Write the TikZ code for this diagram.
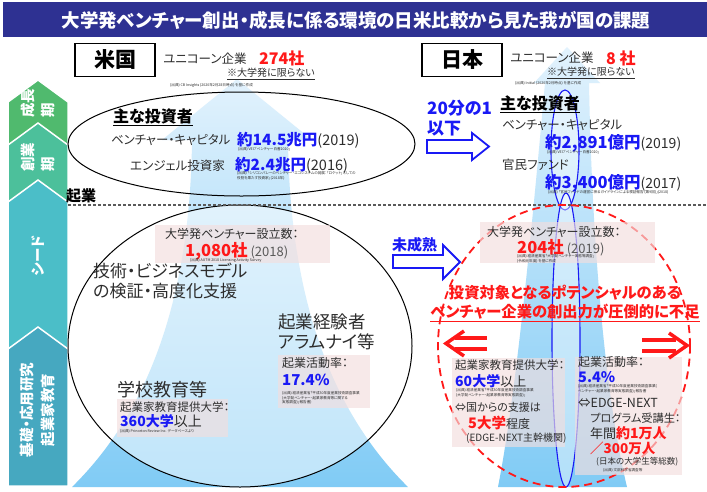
\documentclass[tikz,border=0pt]{standalone}
\usepackage{fontspec}
\setmainfont{Noto Sans CJK JP}[RawFeature=+palt]
\newcommand\fz[2]{\fontsize{#1}{#2}\selectfont}
\definecolor{titlebg}{RGB}{46,49,146}
\definecolor{jblue}{RGB}{25,25,245}
\definecolor{jred}{RGB}{255,25,25}
\definecolor{txt}{RGB}{45,45,45}
\definecolor{cA}{RGB}{80,186,110}
\definecolor{cB}{RGB}{76,192,155}
\definecolor{cC}{RGB}{75,190,200}
\definecolor{cD}{RGB}{70,168,192}
\definecolor{skyT}{RGB}{226,242,253}
\definecolor{skyM}{RGB}{196,230,250}
\definecolor{skyB}{RGB}{128,203,245}
\definecolor{pinkbox}{RGB}{243,222,222}
\definecolor{dashgray}{RGB}{90,90,90}
\begin{document}
\begin{tikzpicture}[x=1pt,y=-1pt,
  t/.style={inner sep=0pt, anchor=west, text=txt},
  tiny/.style={inner sep=0pt, anchor=west, text=txt, font=\fz{3.6}{4.4}, align=left},
  pbox/.style={fill=pinkbox, fill opacity=0.65, draw=none},
  chev/.style={draw=white, line width=1.5pt},
  vlab/.style={rotate=90, text=white, font=\bfseries\fz{14.5}{20}, inner sep=0pt},
  cbox/.style={draw=black, line width=1.3pt, fill=white, minimum width=80pt, minimum height=33pt, font=\bfseries\fz{21}{24}, inner sep=0pt},
  bluearrow/.style={draw=jblue, line width=1.8pt, fill=white, line join=miter},
  redarrow/.style={draw=jred, line width=3.5pt},
  sky/.style={top color=skyT, middle color=skyM, bottom color=skyB},
]
\useasboundingbox (0,0) rectangle (707,491);
\fill[white] (0,0) rectangle (707,491);
% title
\fill[titlebg] (3,2) rectangle (707,37);
\node[text=white, font=\bfseries\fz{18.5}{22}, inner sep=0pt] (title) at (356,20) {大学発ベンチャー創出・成長に係る環境の日米比較から見た我が国の課題};
% stage chevrons
\filldraw[chev, fill=cA] (8,102)--(38,80)--(68,102)--(68,150)--(8,150)--cycle;
\filldraw[chev, fill=cB] (8,145)--(38,123)--(68,145)--(68,210)--(8,210)--cycle;
\filldraw[chev, fill=cC] (8,202)--(38,180)--(68,202)--(68,355)--(8,355)--cycle;
\filldraw[chev, fill=cD] (8,349)--(38,327)--(68,349)--(68,486)--(8,486)--cycle;
\node[vlab, align=left] (lab1) at (38,103) {成長\\期};
\node[vlab, align=left] (lab2) at (38,157) {創業\\期};
\node[vlab] (lab3) at (38,256) {シード};
\node[vlab, align=center, font=\bfseries\fz{14.5}{21}] (lab4) at (38,410) {基礎・応用研究\\起業家教育};
% big sky arrows
\shade[sky] (237,79) -- (312,140) -- (288,140) .. controls (290,330) and (350,430) .. (408,487) -- (72,487) .. controls (130,430) and (190,330) .. (192,140) -- (162,140) -- cycle;
\shade[sky] (567,47) -- (600,83) -- (589,83) .. controls (592,250) and (606,400) .. (627,487) -- (498,487) .. controls (515,400) and (530,250) .. (545,83) -- (534,83) -- cycle;
% ellipses
\draw[black, line width=1pt] (241.5,144) ellipse [x radius=173.5pt, y radius=52pt];
\filldraw[draw=black, line width=1pt, fill=white, fill opacity=0.5] (240,346) ellipse [x radius=172pt, y radius=141pt];
\filldraw[draw=jblue, line width=1.1pt, fill=white, fill opacity=0.4] (565,150) ellipse [x radius=14pt, y radius=60pt];
\filldraw[draw=jblue, line width=1.1pt, fill=white, fill opacity=0.4] (566,340) ellipse [x radius=14pt, y radius=147pt];
% divider
\coordinate (dl) at (68,205);
\coordinate (dr) at (707,205);
\draw[dashgray, line width=1.2pt, dash pattern=on 3pt off 2pt] (dl) -- (dr);
\node[inner sep=0pt, anchor=west, font=\bfseries\fz{15}{18}] (kigyo) at (66,196) {起業};
% red dashed circle
\draw[jred, line width=1.8pt, dash pattern=on 8pt off 5pt] (564,346) ellipse [x radius=126pt, y radius=141pt];
% pink boxes
\fill[pbox] (155,225) rectangle (330,263);
\fill[pbox] (278,355) rectangle (370,408);
\fill[pbox] (117,399) rectangle (228,437);
\fill[pbox] (480,222) rectangle (655,263);
\fill[pbox] (452,358) rectangle (565,447);
\fill[pbox] (575,357) rectangle (682,475);
% country boxes
\node[cbox] (us) at (115,60) {米国};
\node[cbox] (jp) at (462,60) {日本};
% ---- US top
\node[t, font=\fz{12.5}{15}] (usuni) at (163,59) {ユニコーン企業};
\node[t, text=jred, font=\bfseries\fz{16}{19}] (usuninum) at (259,58) {274社};
\node[t, font=\fz{10}{12}] (usnote) at (227,74) {\underline{※大学発に限らない}};
\node[tiny] (ussrc1) at (170,85) {(出典) CB Insights (2020年2月28日時点) を基に作成};
\node[t, text=black, font=\bfseries\fz{16}{19}] (usinv) at (113,117) {\underline{主な投資者}};
\node[t, font=\fz{12.4}{15}] (usvc) at (111,140) {ベンチャー・キャピタル};
\node[t, font=\fz{14.5}{17}] (usvcv) at (237,140) {{\color{jblue}\bfseries\fz{15.5}{18}約14.5兆円}(2019)};
\node[tiny] (ussrc2) at (238,149) {(出典) VEC「ベンチャー白書2020」};
\node[t, font=\fz{12.5}{15}] (usang) at (130,166) {エンジェル投資家};
\node[t, font=\fz{14.5}{17}] (usangv) at (235,165) {{\color{jblue}\bfseries\fz{15.5}{18}約2.4兆円}(2016)};
\node[tiny] (ussrc3) at (237,176) {(出典) 「シリコンバレーのベンチャー・エコシステムの発展：「ロケット」としての\\役割を果たす投資家」(2018年)};
% ---- US middle
\node[t, font=\fz{12}{14}] (usnum) at (165,234) {大学発ベンチャー設立数：};
\node[t, font=\fz{13}{15}, text=black!65] (usnumv) at (185,251) {{\color{jred}\bfseries\fz{16.5}{19}1,080社} (2018)};
\node[tiny] (ussrc4) at (190,260) {(出典) AUTM 2018 Licensing Activity Survey};
\node[t, font=\fz{17}{20}, align=left] (ustech) at (93,281) {技術・ビジネスモデル\\の検証・高度化支援};
\node[t, font=\fz{17.5}{20}, align=left] (usalum) at (278,332) {起業経験者\\アラムナイ等};
\node[t, font=\fz{12}{14}] (usrate) at (282,363) {起業活動率：};
\node[t, text=jblue, font=\bfseries\fz{15}{18}] (usratev) at (282,380) {17.4\%};
\node[tiny] (ussrc5) at (282,398) {(出典) 経済産業省「平成30年度産業技術調査事業\\(大学発ベンチャー・起業家教育等に関する\\実態調査)」報告書)};
\node[t, font=\fz{18}{21}] (ussch) at (117,390) {学校教育等};
\node[t, font=\fz{11.5}{14}] (usedu) at (120,407) {起業家教育提供大学：};
\node[t, font=\fz{14}{17}] (useduv) at (120,421) {{\color{jblue}\bfseries 360大学}以上};
\node[tiny] (ussrc6) at (120,431) {(出典) Princeton Review Inc. データベースより};
% ---- Japan top
\node[t, font=\fz{12.5}{15}] (jpuni) at (510,58) {ユニコーン企業};
\node[t, text=jred, font=\bfseries\fz{16}{19}] (jpuninum) at (606,58) {8 社};
\node[t, font=\fz{10}{12}] (jpnote) at (547,73) {\underline{※大学発に限らない}};
\node[tiny] (jpsrc1) at (515,83) {(出典) Initial (2020年2月時点) を基に作成};
\node[t, text=jblue, font=\bfseries\fz{17}{20}, align=left] (jp20) at (427,118) {20分の1\\以下};
\draw[bluearrow] (427,140)--(472,140)--(472,133)--(489,146.5)--(472,160)--(472,153)--(427,153)--cycle;
\node[t, text=black, font=\bfseries\fz{16}{19}] (jpinv) at (500,104) {\underline{主な投資者}};
\node[t, font=\fz{12.5}{15}] (jpvc) at (502,125) {ベンチャー・キャピタル};
\node[t, font=\fz{14}{17}] (jpvcv) at (545,143) {{\color{jblue}\bfseries\fz{16.5}{19}約2,891億円}(2019)};
\node[tiny] (jpsrc2) at (547,152) {(出典) VEC「ベンチャー白書2020」};
\node[t, font=\fz{12.5}{15}] (jpfund) at (502,165) {官民ファンド};
\node[t, font=\fz{14}{17}] (jpfundv) at (545,183) {{\color{jblue}\bfseries\fz{16.5}{19}約3,400億円}(2017)};
\node[tiny] (jpsrc3) at (548,192) {(出典) 「官民ファンドの運営に係るガイドラインによる検証報告 (第9回)」(2018)};
% ---- Japan middle
\node[t, text=jblue, font=\bfseries\fz{15}{18}] (jpimm) at (392,245) {未成熟};
\draw[bluearrow] (393,255)--(443,255)--(443,245)--(460,262)--(443,279)--(443,268)--(393,268)--cycle;
\node[t, font=\fz{12}{14}] (jpnum) at (487,232) {大学発ベンチャー設立数：};
\node[t, font=\fz{13}{15}, text=black!65] (jpnumv) at (517,248) {{\color{jred}\bfseries\fz{16.5}{19}204社} (2019)};
\node[tiny] (jpsrc4) at (517,259) {(出典) 経済産業省「大学発ベンチャー実態等調査」\\(令和元年度) を基に作成};
\node[inner sep=0pt, text=jred, font=\bfseries\fz{15.3}{18}] (warn1) at (565,293) {投資対象となるポテンシャルのある};
\node[inner sep=0pt, text=jred, font=\bfseries\fz{15.3}{18}] (warn2) at (565,313) {\underline{ベンチャー企業の創出力が圧倒的に不足}};
% red arrows
\draw[redarrow] (487,338) -- (455,338);
\draw[redarrow] (487,349) -- (455,349);
\draw[redarrow, line join=miter] (464,331) -- (446,343.5) -- (464,356);
\draw[redarrow] (642,340) -- (676,340);
\draw[redarrow] (642,351) -- (676,351);
\draw[redarrow, line join=miter] (669,333) -- (687,345.5) -- (669,358);
% left pink box
\node[t, font=\fz{11.5}{14}] (jpedu) at (455,365) {起業家教育提供大学：};
\node[t, font=\fz{13}{16}] (jpeduv) at (455,381) {{\color{jblue}\bfseries\fz{14}{17}60大学}以上};
\node[tiny] (jpsrc5) at (456,393) {(出典) 経済産業省「平成30年度産業技術調査事業\\(大学発ベンチャー・起業家教育等実態調査)」};
\node[t, font=\fz{11}{13}] (jpgov) at (455,407) {⇔国からの支援は};
\node[t, font=\fz{12}{15}] (jpgovv) at (468,423) {{\color{jred}\bfseries\fz{14.5}{18}5大学}程度};
\node[t, font=\fz{10}{12}] (jpedge) at (466,438) {(EDGE-NEXT主幹機関)};
% right pink box
\node[t, font=\fz{12}{14}] (jprate) at (578,362) {起業活動率：};
\node[t, text=jblue, font=\bfseries\fz{14.5}{17}] (jpratev) at (578,377) {5.4\%};
\node[tiny] (jpsrc6) at (578,389) {(出典) 経済産業省「平成30年度産業技術調査事業(\\ベンチャー・起業家教育等実態調査)」報告書};
\node[t, font=\fz{12.5}{15}] (jpen) at (578,403) {⇔EDGE-NEXT};
\node[t, font=\fz{11.2}{14}] (jpprog) at (590,418) {プログラム受講生：};
\node[t, font=\fz{13}{16}] (jpyear) at (590,433) {年間{\color{jred}\bfseries\fz{14}{17}約1万人}};
\node[t, text=jred, font=\bfseries\fz{13.5}{17}] (jptot) at (590,448) {／300万人};
\node[t, font=\fz{8.5}{11}] (jpstud) at (596,462) {(日本の大学生等総数)};
\node[tiny] (jpsrc7) at (603,470) {(出典) 文部科学省調査等};
\end{tikzpicture}
\end{document}
